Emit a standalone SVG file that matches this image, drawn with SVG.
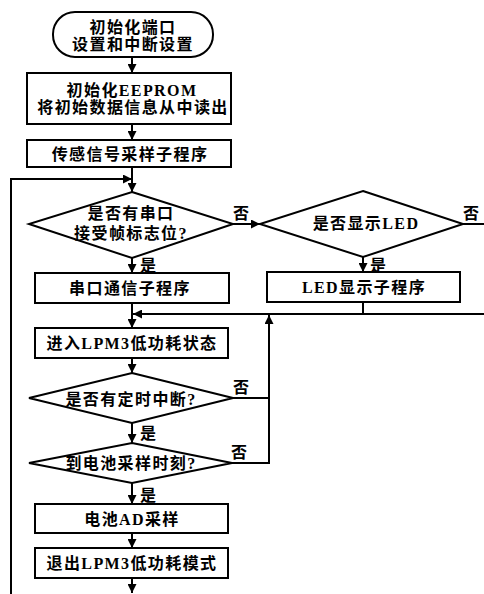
<svg xmlns="http://www.w3.org/2000/svg" width="484" height="594" viewBox="0 0 484 594">
<defs>
<marker id="ah" viewBox="0 0 10 10" refX="10" refY="5" markerWidth="9" markerHeight="9" markerUnits="userSpaceOnUse" orient="auto">
<path d="M0,0 L10,5 L0,10 Z" fill="#000"/>
</marker>
<style>
.n{fill:#fff;stroke:#000;stroke-width:2}
.t{font-family:"Liberation Serif","Noto Sans CJK SC",serif;font-weight:bold;font-size:16px;letter-spacing:1.4px;text-anchor:middle;dominant-baseline:central;fill:#000}
.l{font-family:"Liberation Serif","Noto Sans CJK SC",serif;font-weight:bold;font-size:16px;dominant-baseline:central;fill:#000}
.c{fill:none;stroke:#000;stroke-width:2}
.a{fill:none;stroke:#000;stroke-width:2;marker-end:url(#ah)}
</style>
</defs>
<rect width="484" height="594" fill="#fff"/>
<g id="connectors">
<line class="a" x1="132" y1="57" x2="132" y2="73"/>
<line class="a" x1="132" y1="124" x2="132" y2="140"/>
<line class="a" x1="132" y1="167" x2="132" y2="192"/>
<polyline class="a" points="11,594 11,179 132,179"/>
<line class="a" x1="233" y1="224" x2="260" y2="224"/>
<line class="c" x1="463" y1="224" x2="484" y2="224"/>
<line class="a" x1="363" y1="257" x2="363" y2="272"/>
<line class="c" x1="363" y1="302" x2="363" y2="314"/>
<line class="a" x1="484" y1="314" x2="133" y2="314"/>
<line class="a" x1="132" y1="258" x2="132" y2="273"/>
<line class="a" x1="132" y1="303" x2="132" y2="328"/>
<line class="a" x1="132" y1="358" x2="132" y2="373"/>
<line class="c" x1="233" y1="398" x2="269" y2="398"/>
<polyline class="a" points="232,463 269,463 269,315"/>
<line class="a" x1="132" y1="423" x2="132" y2="443"/>
<line class="a" x1="132" y1="483" x2="132" y2="504"/>
<line class="a" x1="132" y1="533" x2="132" y2="548"/>
<line class="a" x1="132" y1="578" x2="132" y2="593"/>
<text class="l" x="233" y="213">否</text>
<text class="l" x="463" y="213">否</text>
<text class="l" x="140" y="265">是</text>
<text class="l" x="370" y="265">是</text>
<text class="l" x="233" y="387">否</text>
<text class="l" x="140" y="433">是</text>
<text class="l" x="231" y="452">否</text>
<text class="l" x="140" y="495">是</text>
</g>
<g id="start">
<rect class="n" x="53" y="12" width="160" height="45" rx="22"/>
<text class="t" x="133" y="27">初始化端口</text>
<text class="t" x="133" y="44">设置和中断设置</text>
</g>
<g id="init">
<rect class="n" x="27" y="73" width="204" height="51"/>
<text class="t" x="132" y="90">初始化EEPROM</text>
<text class="t" x="133" y="107">将初始数据信息从中读出</text>
</g>
<g id="sense">
<rect class="n" x="27" y="140" width="204" height="27"/>
<text class="t" x="130" y="154">传感信号采样子程序</text>
</g>
<g id="d1">
<polygon class="n" points="132,192 233,224 132,258 29,224"/>
<text class="t" x="131" y="213">是否有串口</text>
<text class="t" x="131" y="233">接受帧标志位?</text>
</g>
<g id="d2">
<polygon class="n" points="363,191 463,224 363,257 260,224"/>
<text class="t" x="366" y="223">是否显示LED</text>
</g>
<g id="serial">
<rect class="n" x="35" y="273" width="194" height="30"/>
<text class="t" x="130" y="288">串口通信子程序</text>
</g>
<g id="led">
<rect class="n" x="267" y="272" width="193" height="30"/>
<text class="t" x="364" y="287">LED显示子程序</text>
</g>
<g id="lpm">
<rect class="n" x="35" y="328" width="193" height="30"/>
<text class="t" x="132" y="343">进入LPM3低功耗状态</text>
</g>
<g id="d3">
<polygon class="n" points="132,373 233,398 132,423 29,398"/>
<text class="t" x="131" y="399">是否有定时中断?</text>
</g>
<g id="d4">
<polygon class="n" points="132,443 232,463 132,483 29,463"/>
<text class="t" x="131" y="463">到电池采样时刻?</text>
</g>
<g id="battery">
<rect class="n" x="35" y="504" width="193" height="29"/>
<text class="t" x="132" y="519">电池AD采样</text>
</g>
<g id="exit">
<rect class="n" x="35" y="548" width="193" height="30"/>
<text class="t" x="132" y="563">退出LPM3低功耗模式</text>
</g>
</svg>
